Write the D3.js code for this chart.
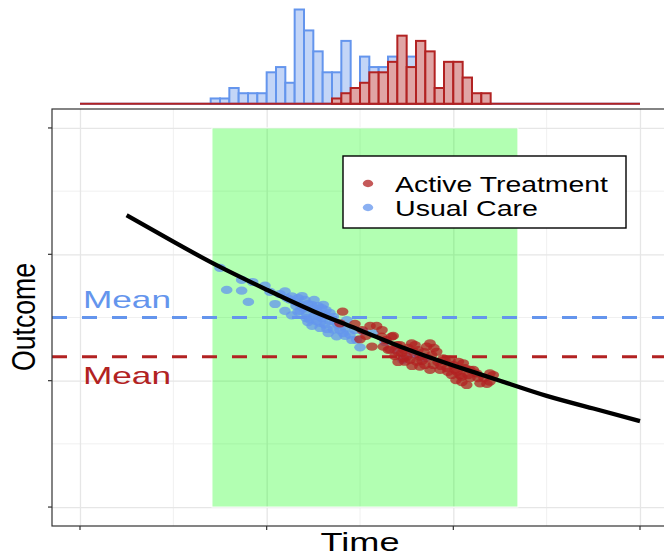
<!DOCTYPE html>
<html>
<head>
<meta charset="utf-8">
<script src="https://cdn.jsdelivr.net/npm/d3@7"></script>
<style>
  html, body { margin: 0; padding: 0; background: #fff; }
  #page { width: 664px; height: 556px; overflow: hidden; }
</style>
</head>
<body>
<div id="page"></div>
<script>
(function( d3 ) {

  "use strict";

  /* * * * * * * * * * * * * * * * * * * */
  // data

  var timeTicks = [ 0, 1, 2, 3 ],
    outcomeTicks = [ 0, 1, 2, 3 ],
    timeMinor = [ 0.5, 1.5, 2.5 ],
    outcomeMinor = [ 0.5, 1.5, 2.5 ];

  var groups = [ "Active Treatment", "Usual Care" ];

  var binWidth = 0.05,
    careBinStart = 0.70,
    careCounts = [ 1, 1, 0, 3, 2, 2, 2, 6, 7, 4, 18, 14, 10, 6, 6, 12, 2, 9, 7, 7, 9, 5, 9, 2 ],
    activeBinStart = 1.35,
    activeCounts = [ 1, 2, 3, 0, 4, 6, 6, 8, 13, 7, 12, 10, 3, 8, 8, 5, 2, 2 ];

  var careTime = [ 0.750, 0.786, 0.866, 0.866, 0.925, 0.902, 0.991, 1.045, 1.071, 1.098,
    1.125, 1.134, 1.169, 1.179, 1.098, 1.134, 1.196, 1.214, 1.241, 1.250,
    1.268, 1.295, 1.303, 1.312, 1.232, 1.268, 1.286, 1.312, 1.339, 1.357,
    1.375, 1.330, 1.410, 1.446, 1.482, 1.500, 1.518, 1.571, 1.429, 1.357,
    1.729, 1.152, 1.205, 1.275, 1.243, 1.179, 1.221, 1.382, 1.420, 1.457,
    1.473, 1.634, 1.687, 1.779, 1.848, 1.157, 1.189, 1.221, 1.254, 1.275,
    1.318, 1.339, 1.296, 1.254, 1.211, 1.168, 1.366, 1.393, 1.420, 1.286,
    1.323, 1.109, 1.018 ];
  var careOutcome = [ 1.892, 1.718, 1.797, 1.712, 1.781, 1.623, 1.752, 1.607, 1.686, 1.707,
    1.641, 1.668, 1.654, 1.601, 1.552, 1.517, 1.575, 1.528, 1.601, 1.575,
    1.549, 1.575, 1.601, 1.517, 1.483, 1.470, 1.417, 1.443, 1.470, 1.404,
    1.351, 1.377, 1.377, 1.364, 1.324, 1.264, 1.388, 1.375, 1.480, 1.506,
    1.164, 1.623, 1.639, 1.512, 1.433, 1.552, 1.464, 1.441, 1.417, 1.322,
    1.401, 1.306, 1.243, 1.211, 1.179, 1.591, 1.670, 1.607, 1.639, 1.591,
    1.559, 1.536, 1.496, 1.512, 1.496, 1.544, 1.464, 1.401, 1.354, 1.457,
    1.409, 1.654, 1.702 ];

  var activeTime = [ 1.407, 1.393, 1.473, 1.500, 1.554, 1.589, 1.564, 1.616, 1.625, 1.670,
    1.652, 1.697, 1.723, 1.750, 1.777, 1.786, 1.741, 1.804, 1.821, 1.857,
    1.875, 1.884, 1.911, 1.893, 1.929, 1.955, 2.000, 2.027, 2.053, 2.045,
    2.072, 2.089, 2.125, 2.143, 2.196, 2.214, 2.196, 1.991, 1.821, 1.732,
    1.946, 2.036, 2.107, 1.678, 1.661, 1.704, 1.757, 1.811, 1.843, 1.864,
    1.918, 1.768, 1.795, 1.714, 1.848, 1.966, 2.009, 2.062, 2.089, 2.164,
    2.014, 1.971, 1.511, 1.532, 1.639, 1.687, 1.736, 1.779, 1.832, 1.896,
    1.934, 1.982, 2.020, 2.079, 2.132, 2.180, 1.618, 1.704, 1.875, 2.046 ];
  var activeOutcome = [ 1.546, 1.454, 1.449, 1.328, 1.433, 1.433, 1.269, 1.348, 1.269, 1.348,
    1.243, 1.282, 1.217, 1.190, 1.296, 1.229, 1.150, 1.150, 1.190, 1.269,
    1.296, 1.203, 1.229, 1.124, 1.085, 1.164, 1.124, 1.150, 1.138, 1.031,
    0.966, 1.085, 1.058, 0.979, 0.992, 1.045, 1.058, 1.045, 1.111, 1.177,
    1.177, 1.045, 1.085, 1.354, 1.248, 1.227, 1.259, 1.243, 1.227, 1.179,
    1.148, 1.164, 1.282, 1.282, 1.124, 1.100, 1.085, 1.100, 1.021, 1.021,
    1.005, 1.069, 1.401, 1.354, 1.322, 1.195, 1.243, 1.116, 1.156, 1.259,
    1.116, 1.164, 1.069, 1.045, 1.021, 0.974, 1.401, 1.148, 1.085, 0.989 ];

  var curveTime = [ 0.25, 0.5, 0.75, 1.0, 1.25, 1.5, 1.75, 2.0, 2.25, 2.5, 2.75, 3.0 ],
    curveOutcome = [ 2.31, 2.10, 1.90, 1.72, 1.55, 1.40, 1.25, 1.12, 1.00, 0.88, 0.78, 0.68 ];

  var meanCare = 1.50,
    meanActive = 1.19,
    windowStart = 0.707,
    windowEnd = 2.346;

  /* * * * * * * * * * * * * * * * * * * */

  var blue = "#6495ED",
    red = "#B22222",
    font = "'Liberation Sans', Arial, sans-serif";

  var svg = d3.select( "#page" ).append( "svg" )
    .attr( "width", 664 )
    .attr( "height", 556 );

  var x = d3.scaleLinear().domain( [ -0.15, 3.15 ] ).range( [ 52, 668 ] ),
    y = d3.scaleLinear().domain( [ -0.15, 3.15 ] ).range( [ 526, 109 ] ),
    yh = d3.scaleLinear().domain( [ 0, 18 ] ).range( [ 103.7, 9.5 ] );

  /* * * * * * * * * * * * * * * * * * * */
  // marginal histogram

  function histogram( start, counts, stroke, fill ) {
    var g = svg.append( "g" );

    g.append( "line" )
      .attr( "x1", x( 0 ) )
      .attr( "x2", x( 3 ) )
      .attr( "y1", yh( 0 ) )
      .attr( "y2", yh( 0 ) )
      .attr( "stroke", stroke )
      .attr( "stroke-width", 2 );

    g.selectAll( "rect" )
      .data( counts )
      .enter().append( "rect" )
      .filter( function( c ) { return c > 0; } )
      .attr( "x", function( c, i ) { return x( start + i * binWidth ); } )
      .attr( "width", x( binWidth ) - x( 0 ) )
      .attr( "y", function( c ) { return yh( c ); } )
      .attr( "height", function( c ) { return yh( 0 ) - yh( c ); } )
      .attr( "fill", fill )
      .attr( "stroke", stroke )
      .attr( "stroke-width", 2 );
  }

  histogram( careBinStart, careCounts, blue, "#c3d5f7" );
  histogram( activeBinStart, activeCounts, red, "#e0a5a5" );

  /* * * * * * * * * * * * * * * * * * * */
  // panel

  var panel = svg.append( "g" );

  panel.selectAll( ".minor-x" )
    .data( timeMinor )
    .enter().append( "line" )
    .attr( "x1", x ).attr( "x2", x )
    .attr( "y1", y.range()[0] ).attr( "y2", y.range()[1] )
    .attr( "stroke", "#f0f0f0" )
    .attr( "stroke-width", 1 );

  panel.selectAll( ".minor-y" )
    .data( outcomeMinor )
    .enter().append( "line" )
    .attr( "x1", x.range()[0] ).attr( "x2", x.range()[1] )
    .attr( "y1", y ).attr( "y2", y )
    .attr( "stroke", "#f0f0f0" )
    .attr( "stroke-width", 1 );

  panel.append( "g" )
    .attr( "transform", "translate(0," + y.range()[0] + ")" )
    .call( d3.axisBottom( x ).tickValues( timeTicks ).tickFormat( "" )
      .tickSize( -( y.range()[0] - y.range()[1] ) ) )
    .call( function( g ) {
      g.select( ".domain" ).remove();
      g.selectAll( "line" ).attr( "stroke", "#e6e6e6" ).attr( "stroke-width", 1.3 );
    });

  panel.append( "g" )
    .attr( "transform", "translate(" + x.range()[0] + ",0)" )
    .call( d3.axisLeft( y ).tickValues( outcomeTicks ).tickFormat( "" )
      .tickSize( -( x.range()[1] - x.range()[0] ) ) )
    .call( function( g ) {
      g.select( ".domain" ).remove();
      g.selectAll( "line" ).attr( "stroke", "#e6e6e6" ).attr( "stroke-width", 1.3 );
    });

  // shaded window
  panel.append( "rect" )
    .attr( "x", x( windowStart ) )
    .attr( "y", y( 3 ) )
    .attr( "width", x( windowEnd ) - x( windowStart ) )
    .attr( "height", y( 0 ) - y( 3 ) )
    .attr( "fill", "#00ff00" )
    .attr( "fill-opacity", 0.3 )
    .attr( "stroke", "#ffffff" )
    .attr( "stroke-width", 1 );

  // mean lines
  [ [ meanCare, blue ], [ meanActive, red ] ].forEach( function( m ) {
    panel.append( "line" )
      .attr( "x1", x.range()[0] ).attr( "x2", x.range()[1] )
      .attr( "y1", y( m[0] ) ).attr( "y2", y( m[0] ) )
      .attr( "stroke", m[1] )
      .attr( "stroke-width", 3 )
      .attr( "stroke-dasharray", "15,15" );
  });

  // points
  function points( ts, vs, color ) {
    panel.append( "g" ).selectAll( "ellipse" )
      .data( ts )
      .enter().append( "ellipse" )
      .attr( "cx", function( t ) { return x( t ); } )
      .attr( "cy", function( t, i ) { return y( vs[i] ); } )
      .attr( "rx", 5.8 )
      .attr( "ry", 4.1 )
      .attr( "fill", color )
      .attr( "fill-opacity", 0.75 );
  }

  points( careTime, careOutcome, blue );
  points( activeTime, activeOutcome, red );

  // fitted curve
  var line = d3.line()
    .x( function( t ) { return x( t ); } )
    .y( function( t, i ) { return y( curveOutcome[i] ); } )
    .curve( d3.curveNatural );

  panel.append( "path" )
    .attr( "d", line( curveTime ) )
    .attr( "fill", "none" )
    .attr( "stroke", "#000" )
    .attr( "stroke-width", 4.3 );

  // border and ticks
  panel.append( "rect" )
    .attr( "x", x.range()[0] )
    .attr( "y", y.range()[1] )
    .attr( "width", x.range()[1] - x.range()[0] )
    .attr( "height", y.range()[0] - y.range()[1] )
    .attr( "fill", "none" )
    .attr( "stroke", "#333" )
    .attr( "stroke-width", 1.2 );

  panel.selectAll( ".tick-x" )
    .data( timeTicks )
    .enter().append( "line" )
    .attr( "x1", x ).attr( "x2", x )
    .attr( "y1", y.range()[0] ).attr( "y2", y.range()[0] + 4 )
    .attr( "stroke", "#333" )
    .attr( "stroke-width", 1.2 );

  panel.selectAll( ".tick-y" )
    .data( outcomeTicks )
    .enter().append( "line" )
    .attr( "x1", x.range()[0] - 4 ).attr( "x2", x.range()[0] )
    .attr( "y1", y ).attr( "y2", y )
    .attr( "stroke", "#333" )
    .attr( "stroke-width", 1.2 );

  /* * * * * * * * * * * * * * * * * * * */
  // text

  function label( txt, px, py, size, len, color, anchor, rot ) {
    var t = svg.append( "text" )
      .attr( "x", 0 )
      .attr( "y", 0 )
      .attr( "transform", "translate(" + px + "," + py + ")" + ( rot ? " rotate(" + rot + ")" : "" ) )
      .attr( "font-family", font )
      .attr( "font-size", size )
      .attr( "fill", color )
      .attr( "text-anchor", anchor || "start" )
      .attr( "textLength", len )
      .attr( "lengthAdjust", "spacingAndGlyphs" )
      .text( txt );
    return t;
  }

  label( "Mean", 83, y( meanCare ) - 10, 24, 88, blue );
  label( "Mean", 83, y( meanActive ) + 27, 24, 88, red );

  label( "Time", 360, 550.5, 26, 79, "#000", "middle" );
  label( "Outcome", 35, 317, 34, 108, "#000", "middle", -90 );

  /* * * * * * * * * * * * * * * * * * * */
  // legend

  var legend = svg.append( "g" );

  legend.append( "rect" )
    .attr( "x", 343 )
    .attr( "y", 156 )
    .attr( "width", 283 )
    .attr( "height", 72 )
    .attr( "fill", "#fff" )
    .attr( "stroke", "#000" )
    .attr( "stroke-width", 1.4 );

  var legendColors = [ red, blue ],
    legendWidths = [ 213, 143 ];

  groups.forEach( function( name, i ) {
    legend.append( "ellipse" )
      .attr( "cx", 368 )
      .attr( "cy", 183.5 + i * 24 )
      .attr( "rx", 5.2 )
      .attr( "ry", 3.7 )
      .attr( "fill", legendColors[i] )
      .attr( "fill-opacity", 0.75 );

    label( name, 395, 191.7 + i * 24, 22, legendWidths[i], "#000" );
  });

})( window.d3 );
</script>
</body>
</html>
